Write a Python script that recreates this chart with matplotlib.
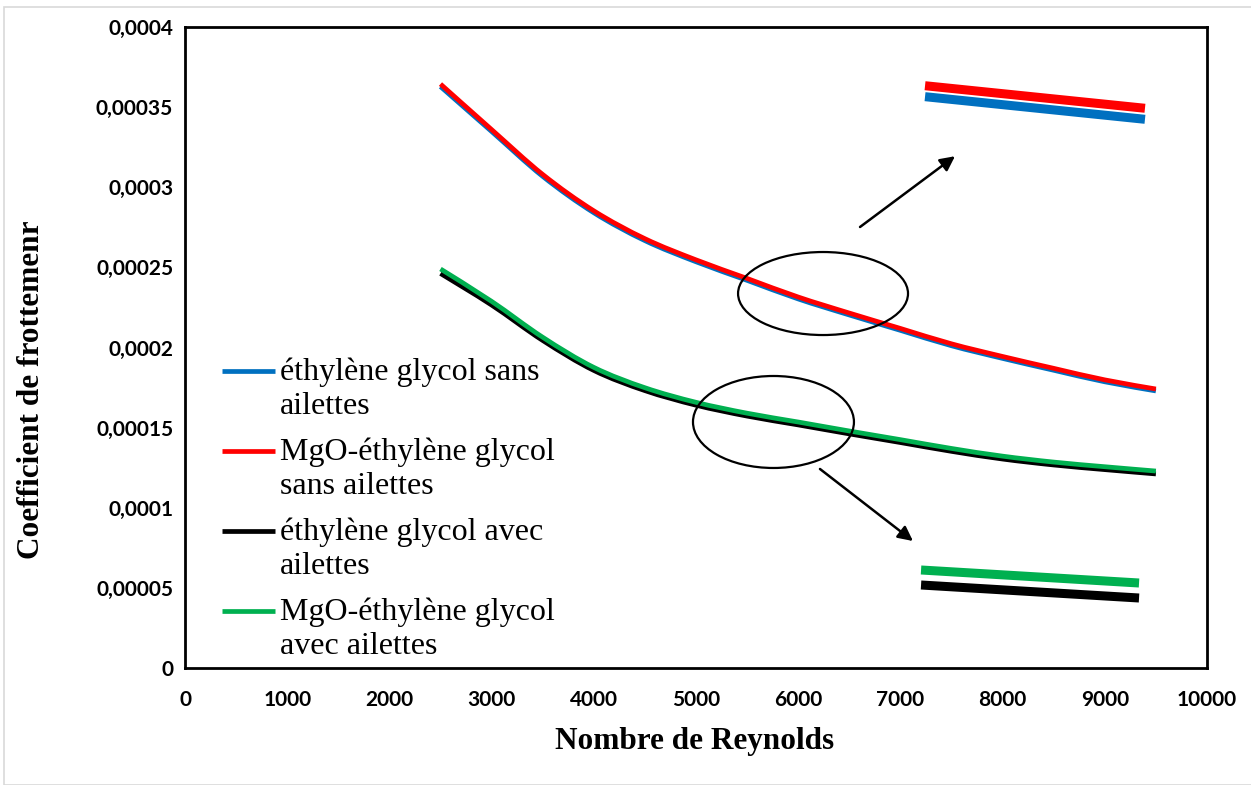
import matplotlib
matplotlib.use("Agg")
import matplotlib.pyplot as plt
from matplotlib.patches import Ellipse, Rectangle, PathPatch
from matplotlib.path import Path

# Reynolds number and friction coefficient
reynolds = [2500, 3000, 3500, 4000, 4500, 5000, 5500, 6000, 6500, 7000, 7500, 8000, 8500, 9000, 9500]
eg_sans = [0.0003628, 0.0003348, 0.0003068, 0.0002841, 0.0002667, 0.0002535, 0.0002419, 0.0002303,
           0.0002203, 0.0002107, 0.0002011, 0.0001932, 0.0001858, 0.0001786, 0.0001729]
mgo_sans = [0.0003644, 0.0003360, 0.0003080, 0.0002853, 0.0002679, 0.0002547, 0.0002431, 0.0002315,
            0.0002215, 0.0002119, 0.0002023, 0.0001944, 0.0001870, 0.0001798, 0.0001741]
eg_avec = [0.0002462, 0.0002265, 0.0002044, 0.0001857, 0.0001731, 0.0001640, 0.0001572, 0.0001517,
           0.0001461, 0.0001407, 0.0001352, 0.0001304, 0.0001267, 0.0001238, 0.0001211]
mgo_avec = [0.0002490, 0.0002288, 0.0002064, 0.0001876, 0.0001749, 0.0001658, 0.0001590, 0.0001535,
            0.0001479, 0.0001425, 0.0001370, 0.0001322, 0.0001285, 0.0001256, 0.0001229]

labels = [
    "éthylène glycol sans\nailettes",
    "MgO-éthylène glycol\nsans ailettes",
    "éthylène glycol avec\nailettes",
    "MgO-éthylène glycol\navec ailettes",
]
colors = ["#0070C0", "#FF0000", "#000000", "#00B050"]

x_ticks = list(range(0, 10001, 1000))
y_ticks = [0, 0.00005, 0.0001, 0.00015, 0.0002, 0.00025, 0.0003, 0.00035, 0.0004]
y_tick_labels = ["0", "0,00005", "0,0001", "0,00015", "0,0002", "0,00025", "0,0003", "0,00035", "0,0004"]


def smooth_path(xs, ys):
    # Excel-style smoothed line: cubic Bezier segments through every point
    verts = [(xs[0], ys[0])]
    codes = [Path.MOVETO]
    n = len(xs)
    for i in range(n - 1):
        x0, y0 = xs[max(i - 1, 0)], ys[max(i - 1, 0)]
        x1, y1 = xs[i], ys[i]
        x2, y2 = xs[i + 1], ys[i + 1]
        x3, y3 = xs[min(i + 2, n - 1)], ys[min(i + 2, n - 1)]
        c1 = (x1 + (x2 - x0) / 6, y1 + (y2 - y0) / 6)
        c2 = (x2 - (x3 - x1) / 6, y2 - (y3 - y1) / 6)
        verts += [c1, c2, (x2, y2)]
        codes += [Path.CURVE4] * 3
    return Path(verts, codes)


W, H = 1251, 785
fig = plt.figure(figsize=(W / 100, H / 100), dpi=100)
# light grey frame of the original picture
fig.patches.append(Rectangle((4 / W, 0), 1.2, 1 - 7 / H, transform=fig.transFigure,
                             fill=False, edgecolor="#d9d9d9", lw=1.2))
ax = fig.add_axes([185 / W, 1 - 668 / H, 1022 / W, 641 / H])

series = [eg_sans, mgo_sans, eg_avec, mgo_avec]
for ys, c in zip(series, colors):
    ax.add_patch(PathPatch(smooth_path(reynolds, ys), fill=False, edgecolor=c,
                           lw=3.4, capstyle="butt"))

ax.set_xlim(0, 10000)
ax.set_ylim(0, 0.0004)
ax.set_xticks(x_ticks, [str(t) for t in x_ticks])
ax.set_yticks(y_ticks, y_tick_labels)
ax.tick_params(length=0)
ax.tick_params(axis="y", pad=8.5)
ax.tick_params(axis="x", pad=15.5)
for lab in ax.get_xticklabels() + ax.get_yticklabels():
    lab.set_fontfamily("Lato")
    lab.set_fontweight("bold")
    lab.set_fontsize(15)
for sp in ax.spines.values():
    sp.set_linewidth(2)
    sp.set_color("black")

fig.text(695 / W, 1 - 741 / H, "Nombre de Reynolds", ha="center", va="center",
         family="Liberation Serif", weight="bold", fontsize=22.5)
fig.text(32 / W, 1 - 390 / H, "Coefficient de frottemenr", ha="center", va="center",
         rotation=90, family="Liberation Serif", weight="bold", fontsize=22.5)

# legend drawn by hand so the handle sits on the first text line
leg_y = [0.463, 0.3385, 0.2137, 0.0889]
for lab, c, yy in zip(labels, colors, leg_y):
    ax.plot([0.036, 0.088], [yy, yy], color=c, lw=3.4, transform=ax.transAxes,
            solid_capstyle="butt")
    ax.text(0.093, yy + 0.021, lab, transform=ax.transAxes, ha="left", va="top",
            family="Liberation Serif", fontsize=23, linespacing=1.23)

# circled regions and arrows to the zoomed views
ax.add_patch(Ellipse((0.6243, 0.5842), 0.1663, 0.1295, transform=ax.transAxes,
                     fill=False, edgecolor="black", lw=1.6))
ax.add_patch(Ellipse((0.5758, 0.3838), 0.1575, 0.1435, transform=ax.transAxes,
                     fill=False, edgecolor="black", lw=1.6))
arrow = dict(arrowstyle="-|>", color="black", lw=1.8, mutation_scale=22, shrinkA=0, shrinkB=0)
ax.annotate("", xy=(0.7534, 0.7984), xytext=(0.6605, 0.6880), xycoords="axes fraction",
            textcoords="axes fraction", arrowprops=arrow)
ax.annotate("", xy=(0.7123, 0.1981), xytext=(0.6213, 0.3105), xycoords="axes fraction",
            textcoords="axes fraction", arrowprops=arrow)

# zoomed views of the curves
zoom_lines = [
    ((0.7241, 0.9393), (0.8913, 0.8560), colors[0]),
    ((0.7241, 0.9393), (0.9084, 0.8732), colors[1]),
    ((0.7202, 0.9335), (0.1295, 0.1092), colors[2]),
    ((0.7202, 0.9335), (0.1529, 0.1326), colors[3]),
]
for xs, ys, c in zoom_lines:
    ax.plot(xs, ys, color=c, lw=6.5, transform=ax.transAxes, solid_capstyle="butt")

fig.savefig("out.png", dpi=100)
